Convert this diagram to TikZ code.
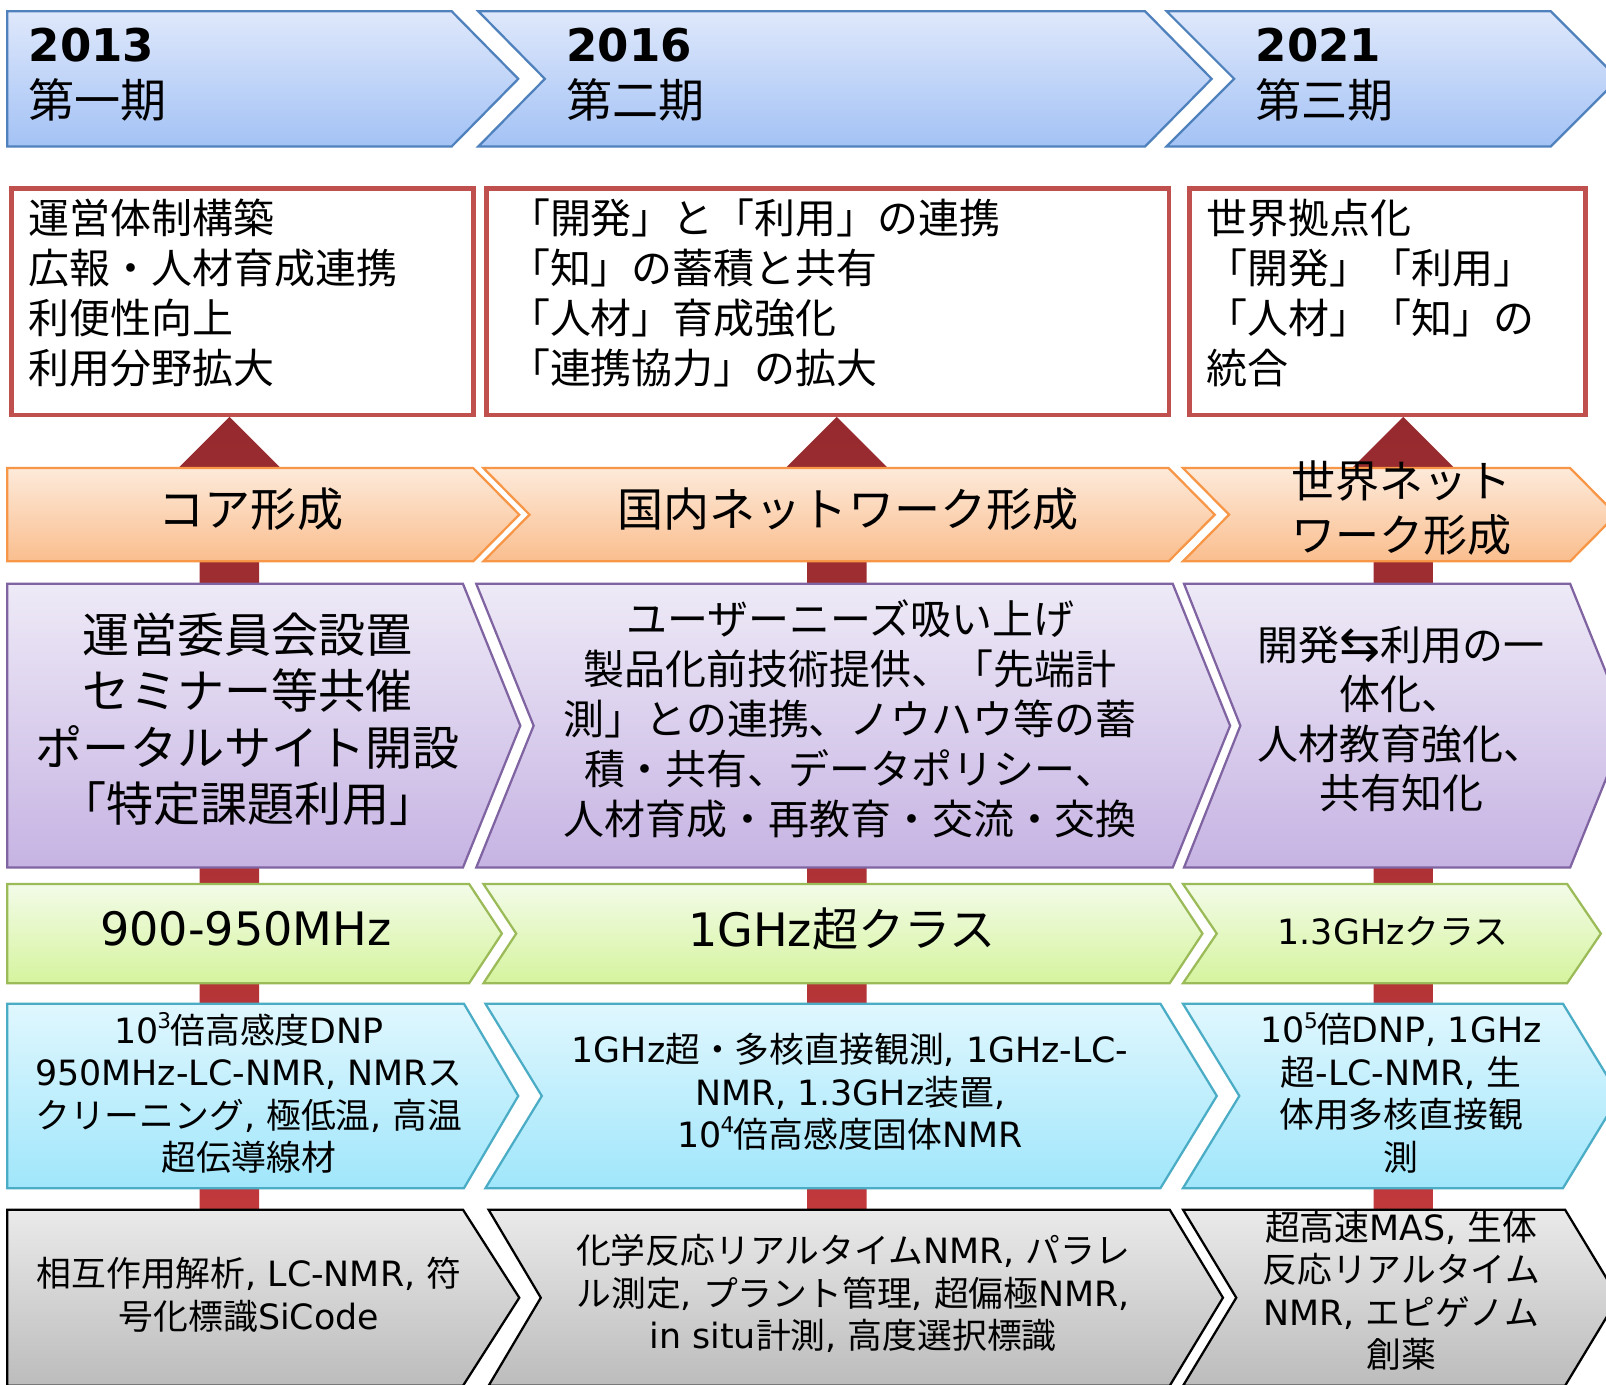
\documentclass[tikz,border=0pt]{standalone}
\usepackage{fontspec}
\usepackage{graphicx}
\setmainfont{DejaVu Sans}
\newfontfamily\jpfont{Noto Sans CJK JP}
\chardef\JPcls=1
\makeatletter
\count@="3000
\loop
  \XeTeXcharclass\count@=\JPcls
  \ifnum\count@<"9FFF \advance\count@ by 1
\repeat
\count@="FF00
\loop
  \XeTeXcharclass\count@=\JPcls
  \ifnum\count@<"FFEF \advance\count@ by 1
\repeat
\makeatother
\XeTeXinterchartoks 0 \JPcls = {\jpfont}
\XeTeXinterchartoks 4095 \JPcls = {\jpfont}
\XeTeXinterchartoks \JPcls 0 = {\rmfamily}
\XeTeXinterchartoks \JPcls 4095 = {\rmfamily}
\XeTeXinterchartokenstate=1

\definecolor{blueT}{RGB}{223,232,251}
\definecolor{blueB}{RGB}{163,194,245}
\definecolor{bluebd}{RGB}{79,129,189}
\definecolor{orT}{RGB}{253,234,218}
\definecolor{orB}{RGB}{250,190,142}
\definecolor{orbd}{RGB}{247,150,70}
\definecolor{puT}{RGB}{238,234,247}
\definecolor{puB}{RGB}{198,179,227}
\definecolor{pubd}{RGB}{128,100,162}
\definecolor{grT}{RGB}{243,251,232}
\definecolor{grB}{RGB}{213,244,158}
\definecolor{grbd}{RGB}{155,187,89}
\definecolor{cyT}{RGB}{224,247,254}
\definecolor{cyB}{RGB}{160,230,251}
\definecolor{cybd}{RGB}{75,172,198}
\definecolor{gyT}{RGB}{234,234,234}
\definecolor{gyB}{RGB}{188,188,188}
\definecolor{redbd}{RGB}{192,80,77}
\definecolor{arrT}{RGB}{149,42,46}
\definecolor{arrB}{RGB}{200,59,61}

\newcommand\chev[7]{\path[#1] (#2,#6) -- (#4,#6) -- (#5,{(#6+#7)/2}) -- (#4,#7) -- (#2,#7) -- (#3,{(#6+#7)/2}) -- cycle;}
\newcommand\mysup[1]{\kern-0.03em\raisebox{0.42em}{\scalebox{0.62}{#1}}\kern-0.02em}

\begin{document}
\begin{tikzpicture}[x=1pt,y=-1pt,
  txt/.style={inner sep=0pt,outer sep=0pt,text=black},
  chevline/.style={line width=2.2pt,line join=miter},
  rowblue/.style={chevline,draw=bluebd,top color=blueT,bottom color=blueB},
  roworange/.style={chevline,draw=orbd,top color=orT,bottom color=orB},
  rowpurple/.style={chevline,draw=pubd,top color=puT,bottom color=puB},
  rowgreen/.style={chevline,draw=grbd,top color=grT,bottom color=grB},
  rowcyan/.style={chevline,draw=cybd,top color=cyT,bottom color=cyB},
  rowgray/.style={chevline,draw=black,top color=gyT,bottom color=gyB},
  redbox/.style={draw=redbd,line width=4.5pt,fill=white,inner sep=0pt,anchor=north west},
  bigarrow/.style={top color=arrT,bottom color=arrB,draw=none},
  f45/.style={font=\fontsize{45}{54}\selectfont},
  f40/.style={font=\fontsize{40}{48.7}\selectfont},
  f34/.style={font=\fontsize{34}{41.5}\selectfont},
]
\useasboundingbox (0,0) rectangle (1568,1352);
\fill[white] (0,0) rectangle (1568,1352);
\clip (0,0) rectangle (1568,1352);

% big red arrows (behind)
\foreach \cx in {224,817,1370} {
  \path[bigarrow] (\cx,407) -- (\cx+60,467) -- (\cx+29,467) -- (\cx+29,1300)
     -- (\cx-29,1300) -- (\cx-29,467) -- (\cx-60,467) -- cycle;
}

% row 1: periods
\chev{rowblue}{7}{7}{441}{506}{11}{143}
\chev{rowblue}{467}{532}{1118}{1183}{11}{143}
\chev{rowblue}{1139}{1205}{1514}{1580}{11}{143}

% row 2: red boxes
\node[redbox,minimum width=451pt,minimum height=221pt] (rb1) at (9,182) {};
\node[redbox,minimum width=666pt,minimum height=221pt] (rb2) at (473,182) {};
\node[redbox,minimum width=387pt,minimum height=221pt] (rb3) at (1159,182) {};

% row 3: orange
\chev{roworange}{7}{7}{462}{507}{457}{548}
\chev{roworange}{472}{517}{1141}{1186}{457}{548}
\chev{roworange}{1155}{1200}{1533}{1578}{457}{548}

% row 4: purple
\chev{rowpurple}{7}{7}{452}{508}{570}{847}
\chev{rowpurple}{465}{521}{1145}{1201}{570}{847}
\chev{rowpurple}{1156}{1211}{1533}{1589}{570}{847}

% row 5: green
\chev{rowgreen}{7}{7}{458}{490}{863}{960}
\chev{rowgreen}{472}{504}{1142}{1174}{863}{960}
\chev{rowgreen}{1155}{1188}{1530}{1563}{863}{960}

% row 6: cyan
\chev{rowcyan}{7}{7}{453}{506}{980}{1160}
\chev{rowcyan}{474}{529}{1133}{1188}{980}{1160}
\chev{rowcyan}{1155}{1210}{1526}{1581}{980}{1160}

% row 7: gray
\chev{rowgray}{7}{7}{452}{507}{1181}{1353}
\chev{rowgray}{477}{528}{1142}{1194}{1181}{1353}
\chev{rowgray}{1155}{1207}{1528}{1580}{1181}{1353}

% row 1 texts
\node[txt,anchor=west,font=\bfseries\fontsize{44}{50}\selectfont] (y1) at (28,44) {2013};
\node[txt,anchor=west,font=\fontsize{45}{50}\selectfont] (p1) at (28,98) {第一期};
\node[txt,anchor=west,font=\bfseries\fontsize{44}{50}\selectfont] (y2) at (553,44) {2016};
\node[txt,anchor=west,font=\fontsize{45}{50}\selectfont] (p2) at (553,98) {第二期};
\node[txt,anchor=west,font=\bfseries\fontsize{44}{50}\selectfont] (y3) at (1226,44) {2021};
\node[txt,anchor=west,font=\fontsize{45}{50}\selectfont] (p3) at (1226,98) {第三期};

% row 2 texts
\node[txt,f40,anchor=west,align=left] (t1) at (28,286) {運営体制構築\\広報・人材育成連携\\利便性向上\\利用分野拡大};
\node[txt,f40,anchor=west,align=left] (t2) at (497,286) {「開発」と「利用」の連携\\「知」の蓄積と共有\\「人材」育成強化\\「連携協力」の拡大};
\node[txt,f40,anchor=west,align=left] (t3) at (1178,286) {世界拠点化\\「開発」「利用」\\「人材」「知」の\\統合};

% row 3 texts
\node[txt,f45] (o1) at (245,497) {コア形成};
\node[txt,f45] (o2) at (828,497) {国内ネットワーク形成};
\node[txt,align=center,font=\fontsize{43}{52}\selectfont] (o3) at (1368,496) {世界ネット\\ワーク形成};

% row 4 texts
\node[txt,align=center,font=\fontsize{46}{55}\selectfont] (u1) at (242,702) {運営委員会設置\\セミナー等共催\\ポータルサイト開設\\「特定課題利用」};
\node[txt,align=center,font=\fontsize{40}{48.75}\selectfont] (u2) at (830,702) {ユーザーニーズ吸い上げ\\製品化前技術提供、「先端計\\測」との連携、ノウハウ等の蓄\\積・共有、データポリシー、\\人材育成・再教育・交流・交換};
\node[txt,align=center,font=\fontsize{40}{48.3}\selectfont] (u3) at (1368,702) {開発\makebox[1em]{\scalebox{1.2}[1.15]{⇆}}利用の一\\体化、\\人材教育強化、\\共有知化};

% row 5 texts
\node[txt,f45] (g1) at (240,907) {900-950MHz};
\node[txt,f45] (g2) at (822,907) {1GHz超クラス};
\node[txt,f34] (g3) at (1360,909) {1.3GHzクラス};

% row 6 texts
\node[txt,f34,align=center] (c1) at (243,1067) {10\mysup{3}倍高感度DNP\\950MHz-LC-NMR, NMRス\\クリーニング, 極低温, 高温\\超伝導線材};
\node[txt,f34,align=center] (c2) at (830,1066) {1GHz超・多核直接観測, 1GHz-LC-\\NMR, 1.3GHz装置,\\10\mysup{4}倍高感度固体NMR};
\node[txt,f34,align=center] (c3) at (1368,1067) {10\mysup{5}倍DNP, 1GHz\\超-LC-NMR, 生\\体用多核直接観\\測};

% row 7 texts
\node[txt,f34,align=center] (k1) at (243,1264) {相互作用解析, LC-NMR, 符\\号化標識SiCode};
\node[txt,f34,align=center] (k2) at (833,1263) {化学反応リアルタイムNMR, パラレ\\ル測定, プラント管理, 超偏極NMR,\\in situ計測, 高度選択標識};
\node[txt,f34,align=center] (k3) at (1368,1260) {超高速MAS, 生体\\反応リアルタイム\\NMR, エピゲノム\\創薬};
\end{tikzpicture}
\end{document}
